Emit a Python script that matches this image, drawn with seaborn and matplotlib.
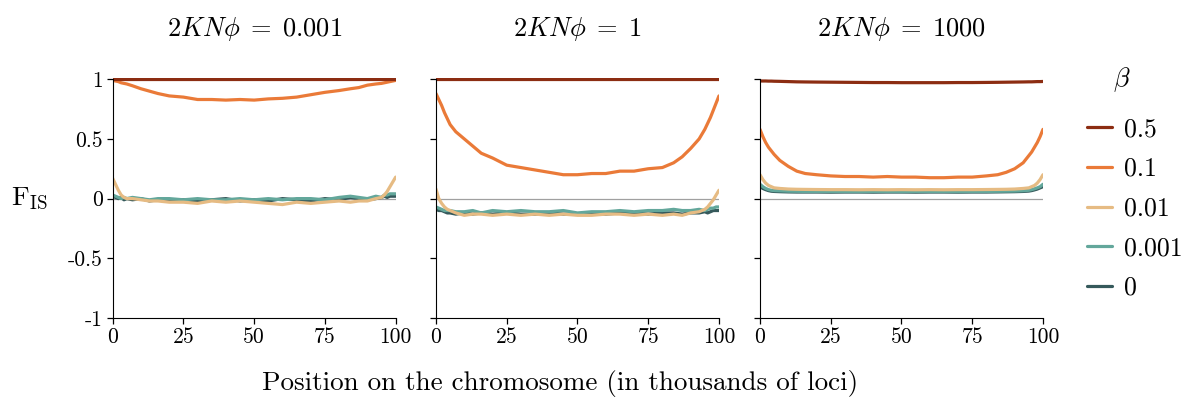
import numpy as np
import pandas as pd
import matplotlib
matplotlib.use('Agg')
import matplotlib.pyplot as plt
import seaborn as sns

# positions along the chromosome (thousands of loci)
pos = [0, 1, 2, 3, 4, 5, 7, 10, 13, 16, 20, 25, 30, 35, 40, 45, 50, 55, 60, 65,
       70, 75, 80, 84, 87, 90, 93, 95, 96, 97, 98, 99, 100]

betas = ['0.5', '0.1', '0.01', '0.001', '0']
colors = ['#8c2d12', '#ea7a38', '#e6bb83', '#63a79b', '#35595b']
panel_titles = [r'$2KN\phi\;=\;0.001$', r'$2KN\phi\;=\;1$', r'$2KN\phi\;=\;1000$']

# panel 1: 2KNphi = 0.001
p1_b05 = [1.0] * 33
p1_b01 = [0.99, 0.985, 0.98, 0.97, 0.965, 0.96, 0.945, 0.92, 0.9, 0.88, 0.86, 0.85, 0.83, 0.83, 0.825, 0.83,
          0.825, 0.835, 0.84, 0.85, 0.87, 0.89, 0.905, 0.92, 0.93, 0.95, 0.96, 0.965, 0.97, 0.975, 0.98, 0.985, 0.99]
p1_b001 = [0.17, 0.12, 0.07, 0.03, 0.01, 0.0, 0.0, -0.01, -0.02, -0.02, -0.03, -0.03, -0.04, -0.02, -0.03, -0.02,
           -0.03, -0.04, -0.05, -0.03, -0.04, -0.03, -0.02, -0.03, -0.02, -0.02, 0.0, 0.01, 0.03, 0.06, 0.1, 0.14, 0.18]
p1_b0001 = [0.03, 0.02, 0.01, 0.0, 0.01, 0.0, 0.01, 0.0, -0.01, 0.0, 0.0, -0.01, 0.0, -0.01, -0.01, 0.0,
            -0.01, 0.0, -0.01, 0.0, 0.0, -0.01, 0.01, 0.02, 0.01, 0.0, 0.02, 0.01, 0.03, 0.03, 0.04, 0.04, 0.04]
p1_b0 = [0.02, 0.01, 0.0, 0.01, -0.01, 0.0, -0.01, 0.0, -0.02, -0.01, -0.02, -0.01, -0.02, -0.01, 0.0, -0.02,
         -0.01, -0.02, 0.0, -0.01, -0.02, 0.0, -0.01, 0.01, 0.0, -0.01, 0.0, 0.01, 0.02, 0.01, 0.02, 0.02, 0.02]

# panel 2: 2KNphi = 1
p2_b05 = [1.0] * 33
p2_b01 = [0.88, 0.83, 0.78, 0.72, 0.67, 0.62, 0.56, 0.5, 0.44, 0.38, 0.34, 0.28, 0.26, 0.24, 0.22, 0.2,
          0.2, 0.21, 0.21, 0.23, 0.23, 0.25, 0.26, 0.3, 0.35, 0.42, 0.5, 0.58, 0.63, 0.68, 0.74, 0.8, 0.86]
p2_b001 = [0.08, 0.0, -0.04, -0.07, -0.09, -0.1, -0.12, -0.14, -0.13, -0.13, -0.14, -0.13, -0.14, -0.13, -0.14, -0.13,
           -0.14, -0.14, -0.13, -0.13, -0.14, -0.13, -0.14, -0.13, -0.14, -0.12, -0.11, -0.09, -0.07, -0.04, -0.01, 0.03, 0.07]
p2_b0001 = [-0.07, -0.08, -0.09, -0.1, -0.1, -0.1, -0.11, -0.11, -0.1, -0.12, -0.1, -0.11, -0.1, -0.11, -0.11, -0.1,
            -0.12, -0.11, -0.11, -0.1, -0.11, -0.1, -0.1, -0.09, -0.1, -0.1, -0.09, -0.1, -0.09, -0.08, -0.08, -0.07, -0.07]
p2_b0 = [-0.09, -0.1, -0.1, -0.11, -0.12, -0.12, -0.13, -0.12, -0.13, -0.12, -0.13, -0.12, -0.13, -0.13, -0.12, -0.13,
         -0.13, -0.12, -0.13, -0.12, -0.12, -0.13, -0.12, -0.12, -0.13, -0.12, -0.12, -0.11, -0.12, -0.11, -0.1, -0.1, -0.1]

# panel 3: 2KNphi = 1000
p3_b05 = [0.985, 0.985, 0.985, 0.984, 0.984, 0.983, 0.982, 0.98, 0.978, 0.977, 0.976, 0.975, 0.974, 0.973, 0.972, 0.972,
          0.971, 0.971, 0.971, 0.971, 0.972, 0.972, 0.973, 0.974, 0.975, 0.976, 0.977, 0.978, 0.978, 0.979, 0.98, 0.98, 0.981]
p3_b01 = [0.58, 0.52, 0.47, 0.43, 0.4, 0.37, 0.32, 0.27, 0.23, 0.21, 0.2, 0.19, 0.185, 0.185, 0.18, 0.185,
          0.18, 0.18, 0.175, 0.175, 0.18, 0.18, 0.19, 0.2, 0.22, 0.25, 0.3, 0.36, 0.39, 0.43, 0.47, 0.52, 0.58]
p3_b001 = [0.2, 0.16, 0.13, 0.11, 0.1, 0.09, 0.085, 0.08, 0.078, 0.077, 0.076, 0.075, 0.075, 0.074, 0.075, 0.074,
           0.075, 0.074, 0.075, 0.074, 0.075, 0.075, 0.076, 0.077, 0.078, 0.08, 0.085, 0.09, 0.1, 0.11, 0.13, 0.16, 0.2]
p3_b0001 = [0.12, 0.1, 0.085, 0.075, 0.07, 0.067, 0.065, 0.062, 0.061, 0.06, 0.06, 0.06, 0.06, 0.059, 0.06, 0.06,
            0.059, 0.06, 0.06, 0.06, 0.059, 0.06, 0.06, 0.061, 0.062, 0.063, 0.066, 0.07, 0.075, 0.082, 0.09, 0.1, 0.12]
p3_b0 = [0.1, 0.085, 0.075, 0.067, 0.062, 0.06, 0.058, 0.056, 0.055, 0.055, 0.055, 0.054, 0.055, 0.055, 0.054, 0.055,
         0.055, 0.054, 0.055, 0.055, 0.054, 0.055, 0.055, 0.056, 0.057, 0.058, 0.06, 0.063, 0.067, 0.073, 0.08, 0.09, 0.1]

panels = [
    [p1_b05, p1_b01, p1_b001, p1_b0001, p1_b0],
    [p2_b05, p2_b01, p2_b001, p2_b0001, p2_b0],
    [p3_b05, p3_b01, p3_b001, p3_b0001, p3_b0],
]

sns.set_style('ticks')
plt.rcParams['font.family'] = ['cmr10', 'DejaVu Serif']
plt.rcParams['mathtext.fontset'] = 'cm'
plt.rcParams['axes.unicode_minus'] = False
plt.rcParams['text.color'] = 'black'
plt.rcParams['xtick.color'] = 'black'
plt.rcParams['ytick.color'] = 'black'
plt.rcParams['axes.edgecolor'] = 'black'

fig = plt.figure(figsize=(11.86, 3.97), dpi=100)
lefts = [0.0950, 0.3676, 0.6408]
axes = [fig.add_axes([l, 0.199, 0.2386, 0.6045]) for l in lefts]

palette = dict(zip(betas, colors))
for i, ax in enumerate(axes):
    rows = []
    for b, vals in zip(betas, panels[i]):
        for x, y in zip(pos, vals):
            rows.append({'pos': x, 'fis': y, 'beta': b})
    df = pd.DataFrame(rows)
    ax.axhline(0, color='#a0a0a0', lw=0.9, zorder=0)
    # draw low beta first so 0.5 sits on top
    sns.lineplot(data=df, x='pos', y='fis', hue='beta', hue_order=betas[::-1],
                 palette=palette, linewidth=2.3, ax=ax, legend=False)
    ax.set_xlim(0, 100)
    ax.set_ylim(-1, 1.01)
    ax.set_xticks([0, 25, 50, 75, 100])
    ax.set_xticklabels(['0', '25', '50', '75', '100'], fontsize=15.5)
    ax.set_yticks([1, 0.5, 0, -0.5, -1])
    if i == 0:
        ax.set_yticklabels(['1', '0.5', '0', '-0.5', '-1'], fontsize=15.5)
    else:
        ax.set_yticklabels([])
    ax.set_xlabel('')
    ax.set_ylabel('')
    ax.spines['top'].set_visible(False)
    ax.spines['right'].set_visible(False)
    ax.spines['left'].set_bounds(-1, 1)
    ax.tick_params(length=4, width=0.9, pad=3)
    ax.set_title(panel_titles[i], fontsize=19, pad=30)

fig.text(0.025, 0.5, r'F$_{\mathrm{IS}}$', fontsize=19.5, va='center', ha='center')
fig.text(0.472, 0.035, 'Position on the chromosome (in thousands of loci)', fontsize=19.5, ha='center', va='center')

# legend title placed on its own, a bit above the entries
fig.text(0.946, 0.8, r'$\beta$', fontsize=19, ha='center', va='center')
handles = [plt.Line2D([], [], color=c, lw=2.3) for c in colors]
leg = fig.legend(handles, betas, loc='upper left', bbox_to_anchor=(0.912, 0.717),
                 frameon=False, fontsize=18.5, handlelength=1.0, labelspacing=0.62,
                 handletextpad=0.45, borderaxespad=0, borderpad=0.2)

fig.savefig('out.png', dpi=100)
